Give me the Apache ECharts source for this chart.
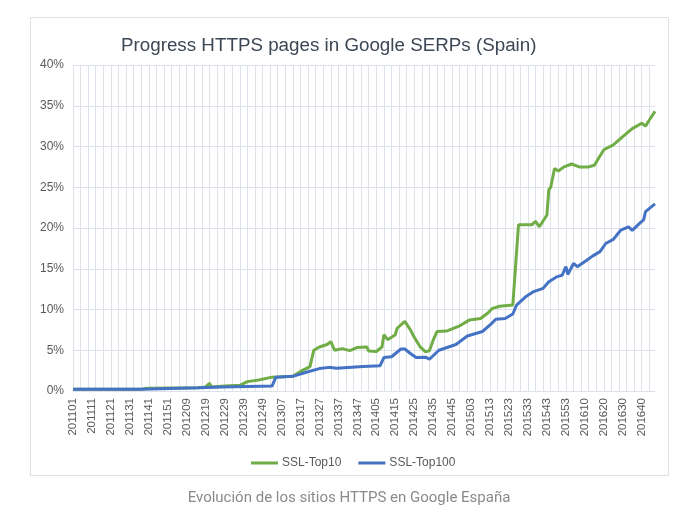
<!DOCTYPE html>
<html><head><meta charset="utf-8">
<script src="https://cdn.jsdelivr.net/npm/echarts@6/dist/echarts.min.js"></script>
<style>html,body{margin:0;padding:0;background:#fff}#c{width:689px;height:526px}</style>
</head><body><div id="c"></div>
<script>
// Week labels: year and number of weeks shown for that year
const years = [2011, 2012, 2013, 2014, 2015, 2016];
const weeksPerYear = [52, 52, 52, 52, 53, 47];
const yTicks = ['0%','5%','10%','15%','20%','25%','30%','35%','40%'];
const seriesNames = ['SSL-Top10', 'SSL-Top100'];

// SSL-Top10: [week, % of HTTPS pages]
const top10 = [
 ['201101',0.2],['201137',0.2],['201139',0.3],['201141',0.35],['201215',0.4],['201219',0.5],
 ['201221',0.95],['201222',0.5],['201229',0.6],['201237',0.7],['201241',1.15],['201247',1.35],
 ['201302',1.7],['201313',1.8],['201317',2.4],['201322',3.0],['201324',5.0],['201327',5.4],
 ['201331',5.7],['201333',6.05],['201335',5.0],['201339',5.2],['201343',4.95],['201347',5.35],
 ['201352',5.4],['201401',4.9],['201405',4.85],['201408',5.4],['201409',6.9],['201411',6.3],
 ['201415',6.9],['201416',7.7],['201420',8.55],['201423',7.5],['201425',6.6],['201428',5.45],
 ['201431',4.8],['201433',4.95],['201435',6.25],['201437',7.3],['201442',7.35],['201449',8.0],
 ['201502',8.7],['201508',8.9],['201512',9.6],['201514',10.1],['201518',10.4],['201525',10.55],
 ['201526',10.6],['201528',20.4],['201535',20.4],['201537',20.8],['201539',20.15],['201543',21.6],
 ['201544',24.7],['201545',25.0],['201547',27.3],['201549',27.0],['201552',27.5],['201603',27.85],
 ['201607',27.5],['201612',27.5],['201615',27.7],['201620',29.6],['201625',30.2],['201630',31.2],
 ['201635',32.2],['201640',32.85],['201642',32.5],['201644',33.25],['201647',34.3]
];
// SSL-Top100: [week, % of HTTPS pages]
const top100 = [
 ['201101',0.2],['201137',0.2],['201138',0.37],['201215',0.4],['201216',0.5],['201228',0.5],
 ['201229',0.6],['201302',0.6],['201304',1.7],['201313',1.8],['201320',2.3],['201327',2.75],
 ['201332',2.9],['201336',2.8],['201350',3.0],['201407',3.1],['201409',4.1],['201413',4.2],
 ['201418',5.15],['201420',5.15],['201423',4.6],['201426',4.1],['201431',4.15],['201433',3.9],
 ['201438',5.0],['201447',5.7],['201501',6.75],['201509',7.3],['201513',8.1],['201516',8.8],
 ['201521',8.9],['201525',9.45],['201527',10.55],['201532',11.6],['201536',12.2],['201541',12.6],
 ['201544',13.4],['201548',14.0],['201551',14.2],['201553',15.25],['201601',14.3],['201604',15.65],
 ['201606',15.25],['201611',16.05],['201614',16.55],['201618',17.1],['201621',18.1],['201625',18.6],
 ['201629',19.75],['201633',20.15],['201635',19.7],['201639',20.6],['201641',21.0],['201642',22.0],
 ['201647',22.95]
];

const categories = [];
years.forEach((y, k) => {
  for (let w = 1; w <= weeksPerYear[k]; w++) categories.push(String(y) + (w < 10 ? '0' + w : String(w)));
});

const chart = echarts.init(document.getElementById('c'), null, {renderer: 'canvas'});
const gridColor = '#dde1e8';
const textColor = '#595959';
chart.setOption({
  backgroundColor: '#fff',
  animation: false,
  title: {
    text: 'Progress HTTPS pages in Google SERPs (Spain)',
    left: 116, top: 31,
    textStyle: {fontFamily: 'Liberation Sans, Arial', fontSize: 18.8, fontWeight: 'normal', color: '#3c4654'}
  },
  legend: {
    data: seriesNames, left: 246, top: 452,
    icon: 'rect', itemWidth: 27, itemHeight: 3, itemGap: 17,
    textStyle: {fontFamily: 'Liberation Sans, Arial', fontSize: 12, color: textColor, padding: [0,0,0,-1]}
  },
  grid: {left: 73, right: 34, top: 65, bottom: 135, containLabel: false},
  xAxis: {
    type: 'category', data: categories, boundaryGap: false,
    axisLine: {show: true, lineStyle: {color: gridColor}},
    axisTick: {show: false},
    axisLabel: {interval: 9, rotate: 90, margin: 7, fontFamily: 'Liberation Sans, Arial', fontSize: 11.5, color: textColor},
    splitLine: {show: true, interval: 3, lineStyle: {color: gridColor, width: 1}}
  },
  yAxis: {
    type: 'value', min: 0, max: 40, interval: 5,
    axisLine: {show: false}, axisTick: {show: false},
    axisLabel: {formatter: v => yTicks[Math.round(v / 5)], margin: 9, fontFamily: 'Liberation Sans, Arial', fontSize: 12, color: textColor},
    splitLine: {lineStyle: {color: gridColor, width: 1}}
  },
  graphic: [
    {type: 'rect', shape: {x: 30.5, y: 17.5, width: 638, height: 458}, style: {fill: 'none', stroke: '#dcdfe4', lineWidth: 1}, silent: true, z: -1},
    {type: 'text', x: 349, y: 498, style: {text: 'Evolución de los sitios HTTPS en Google España', font: '15px Roboto, Liberation Sans, Arial', fill: '#8a8a8a', textAlign: 'center', textVerticalAlign: 'middle'}}
  ],
  series: [
    {name: seriesNames[0], type: 'line', data: top10, showSymbol: false, symbol: 'none', lineStyle: {color: '#70AD47', width: 3}, itemStyle: {color: '#70AD47'}, z: 2},
    {name: seriesNames[1], type: 'line', data: top100, showSymbol: false, symbol: 'none', lineStyle: {color: '#4472C4', width: 3}, itemStyle: {color: '#4472C4'}, z: 3}
  ]
});
</script></body></html>
